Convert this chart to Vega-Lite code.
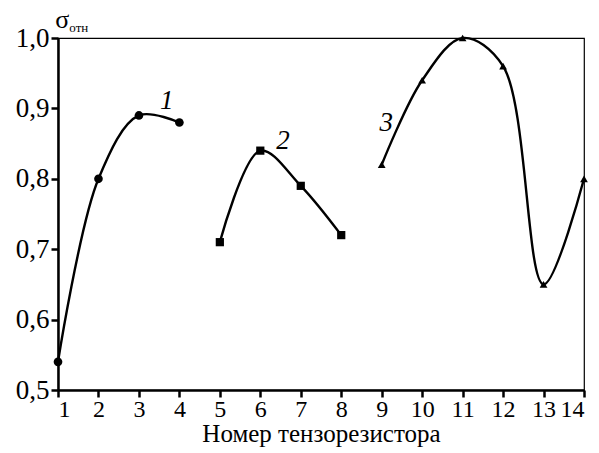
{
  "$schema": "https://vega.github.io/schema/vega-lite/v6.json",
  "width": 526,
  "height": 352,
  "autosize": {"type": "none"},
  "padding": {"left": 58, "top": 38, "right": 15, "bottom": 63},
  "background": "white",
  "config": {
    "view": {"stroke": "black", "strokeWidth": 1.2},
    "font": "Liberation Serif, Times New Roman, serif",
    "axis": {
      "labelFont": "Liberation Serif, Times New Roman, serif",
      "titleFont": "Liberation Serif, Times New Roman, serif",
      "labelColor": "black",
      "titleColor": "black",
      "domainColor": "black",
      "tickColor": "black",
      "grid": false,
      "domainWidth": 2.5,
      "tickWidth": 2.5,
      "tickSize": 7,
      "labelOverlap": false
    }
  },
  "datasets": {
    "pts": [
      {"n": 1, "s": 0.54, "g": "1"},
      {"n": 2, "s": 0.80, "g": "1"},
      {"n": 3, "s": 0.89, "g": "1"},
      {"n": 4, "s": 0.88, "g": "1"},
      {"n": 5, "s": 0.71, "g": "2"},
      {"n": 6, "s": 0.84, "g": "2"},
      {"n": 7, "s": 0.79, "g": "2"},
      {"n": 8, "s": 0.72, "g": "2"},
      {"n": 9, "s": 0.82, "g": "3"},
      {"n": 10, "s": 0.94, "g": "3"},
      {"n": 11, "s": 1.0, "g": "3"},
      {"n": 12, "s": 0.96, "g": "3"},
      {"n": 13, "s": 0.65, "g": "3"},
      {"n": 14, "s": 0.80, "g": "3"}
    ],
    "labels": [
      {"n": 3.69, "s": 0.910, "t": "1"},
      {"n": 6.56, "s": 0.853, "t": "2"},
      {"n": 9.11, "s": 0.879, "t": "3"}
    ],
    "sym": [
      {"n": 0.93, "s": 1.0142, "t": "σ", "sz": 26},
      {"n": 1.28, "s": 1.0085, "t": "отн", "sz": 13}
    ]
  },
  "encoding": {
    "x": {"field": "n", "type": "quantitative"},
    "y": {"field": "s", "type": "quantitative"}
  },
  "layer": [
    {
      "data": {"name": "pts"},
      "mark": {"type": "line", "interpolate": "catmull-rom", "color": "black", "strokeWidth": 2.4},
      "encoding": {
        "x": {
          "field": "n", "type": "quantitative",
          "scale": {"domain": [1, 14], "nice": false, "zero": false},
          "axis": {
            "values": [1,2,3,4,5,6,7,8,9,10,11,12,13,14],
            "labelFontSize": 24,
            "labelPadding": 0,
            "title": "Номер тензорезистора",
            "titleFontSize": 25,
            "titleFontWeight": "normal",
            "titlePadding": 0
          }
        },
        "y": {
          "field": "s", "type": "quantitative",
          "scale": {"domain": [0.5, 1.0], "nice": false, "zero": false},
          "axis": {
            "values": [0.5, 0.6, 0.7, 0.8, 0.9, 1.0],
            "labelExpr": "replace(format(datum.value, '.1f'), '.', ',')",
            "labelFontSize": 27,
            "labelPadding": 2,
            "title": null
          }
        },
        "detail": {"field": "g"}
      }
    },
    {
      "data": {"name": "pts"},
      "mark": {"type": "point", "filled": true, "color": "black", "opacity": 1},
      "encoding": {
        "shape": {
          "field": "g", "type": "nominal",
          "scale": {"domain": ["1", "2", "3"], "range": ["circle", "square", "triangle-up"]},
          "legend": null
        },
        "size": {
          "field": "g", "type": "nominal",
          "scale": {"domain": ["1", "2", "3"], "range": [75, 60, 135]},
          "legend": null
        }
      }
    },
    {
      "data": {"name": "labels"},
      "mark": {"type": "text", "fontSize": 27, "fontStyle": "italic", "color": "black", "font": "Liberation Serif, Times New Roman, serif"},
      "encoding": {"text": {"field": "t"}}
    },
    {
      "data": {"name": "sym"},
      "mark": {"type": "text", "color": "black", "font": "Liberation Serif, Times New Roman, serif", "clip": false, "align": "left", "baseline": "alphabetic"},
      "encoding": {
        "text": {"field": "t"},
        "size": {"field": "sz", "type": "quantitative", "scale": null}
      }
    }
  ]
}
